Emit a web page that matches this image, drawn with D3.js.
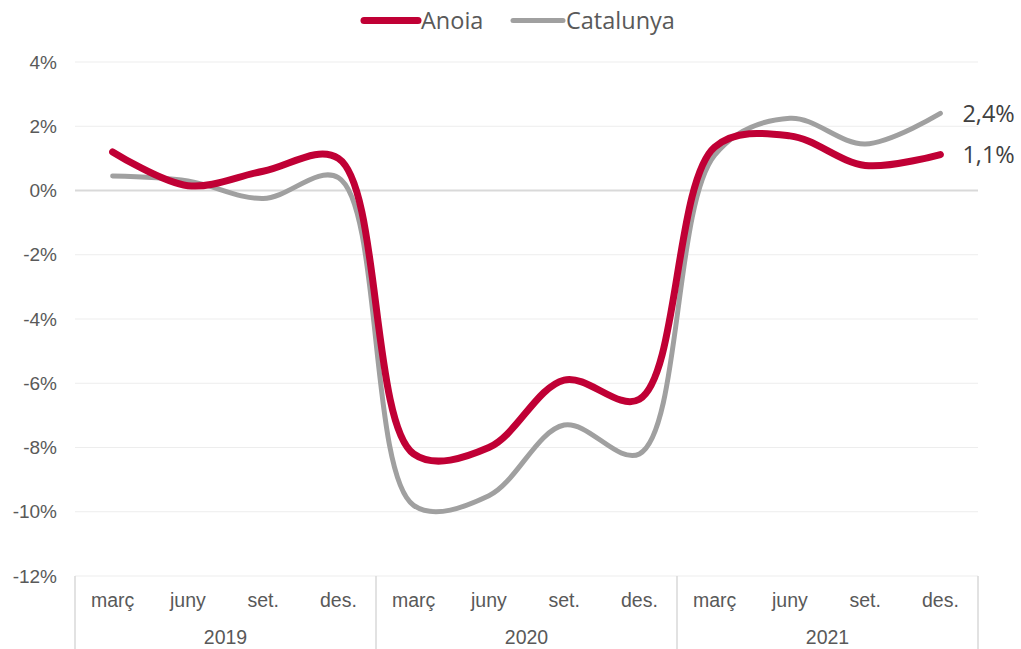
<!DOCTYPE html>
<html>
<head>
<meta charset="utf-8">
<script src="https://cdn.jsdelivr.net/npm/d3@7"></script>
<style>
  body { margin: 0; background: #fff; }
  svg { display: block; }
</style>
</head>
<body>
<svg id="chart" width="1021" height="649"></svg>
<script>
// quarters shown on the category axis
const years = ['2019', '2020', '2021'];
const months = ['març', 'juny', 'set.', 'des.'];
const yTicks = [4, 2, 0, -2, -4, -6, -8, -10, -12];

// % values, one per quarter
const anoia = [1.2, 0.15, 0.6, 1.0, -8.2, -8.0, -5.9, -6.5, 1.35, 1.7, 0.78, 1.12];
const catalunya = [0.45, 0.3, -0.25, 0.4, -9.8, -9.5, -7.3, -8.2, 1.1, 2.25, 1.45, 2.4];

const seriesNames = ['Anoia', 'Catalunya'];
const colors = {Anoia: '#c00035', Catalunya: '#a0a0a0'};
const widths = {Anoia: 7, Catalunya: 5};

const svg = d3.select('#chart');
const margin = {top: 62, right: 43, bottom: 73, left: 75};
const W = +svg.attr('width'), H = +svg.attr('height');
const axisFont = 'Liberation Sans, Arial, sans-serif';

const cats = [];
years.forEach(y => months.forEach(m => cats.push(y + '-' + m)));

const x = d3.scaleBand().domain(cats).range([margin.left, W - margin.right]);
const y = d3.scaleLinear().domain([-12, 4]).range([H - margin.bottom, margin.top]);

// grid
svg.append('g').selectAll('line')
  .data(yTicks)
  .join('line')
    .attr('x1', margin.left).attr('x2', W - margin.right)
    .attr('y1', d => y(d)).attr('y2', d => y(d))
    .attr('stroke', d => d === 0 ? '#d9d9d9' : '#ededed')
    .attr('stroke-width', d => d === 0 ? 2 : 1);

// y axis labels
const yAxis = svg.append('g')
  .attr('transform', `translate(${margin.left},0)`)
  .call(d3.axisLeft(y).tickValues(yTicks).tickSize(0).tickPadding(18).tickFormat(d => d + '%'));
yAxis.select('.domain').remove();
yAxis.selectAll('text')
  .attr('font-family', axisFont)
  .attr('font-size', 19)
  .attr('fill', '#595959');

// category axis: months
const xAxis = svg.append('g')
  .attr('transform', `translate(0,${H - margin.bottom})`)
  .call(d3.axisBottom(x).tickSize(0).tickPadding(17).tickFormat(d => d.split('-')[1]));
xAxis.select('.domain').remove();
xAxis.selectAll('text')
  .attr('font-family', axisFont)
  .attr('font-size', 19.5)
  .attr('fill', '#595959');

// year groups
const yearX = d3.scaleBand().domain(years).range([margin.left, W - margin.right]);
svg.append('g').selectAll('line')
  .data(years.concat(['end']))
  .join('line')
    .attr('x1', (d, i) => i < years.length ? yearX(d) : yearX.range()[1])
    .attr('x2', (d, i) => i < years.length ? yearX(d) : yearX.range()[1])
    .attr('y1', H - margin.bottom)
    .attr('y2', H)
    .attr('stroke', '#d9d9d9')
    .attr('stroke-width', 1.5);

svg.append('g').selectAll('text')
  .data(years)
  .join('text')
    .attr('x', d => yearX(d) + yearX.bandwidth() / 2)
    .attr('y', H - 5)
    .attr('text-anchor', 'middle')
    .attr('font-family', axisFont)
    .attr('font-size', 19.5)
    .attr('fill', '#595959')
    .text(d => d);

// lines
const data = {Anoia: anoia, Catalunya: catalunya};
const line = d3.line()
  .x((d, i) => x(cats[i]) + x.bandwidth() / 2)
  .y(d => y(d))
  .curve(d3.curveCatmullRom.alpha(0.5));

['Catalunya', 'Anoia'].forEach(name => {
  svg.append('path')
    .datum(data[name])
    .attr('fill', 'none')
    .attr('stroke', colors[name])
    .attr('stroke-width', widths[name])
    .attr('stroke-linecap', 'round')
    .attr('stroke-linejoin', 'round')
    .attr('d', line);
});

// end labels
const fmt = v => d3.format('.1f')(v).replace('.', ',') + '%';
seriesNames.forEach(name => {
  const vals = data[name];
  const last = vals[vals.length - 1];
  svg.append('text')
    .attr('x', x(cats[cats.length - 1]) + x.bandwidth() / 2 + 22)
    .attr('y', y(last))
    .attr('dy', '0.35em')
    .attr('font-family', 'Open Sans, sans-serif')
    .attr('font-size', 23.5)
    .attr('fill', '#404040')
    .text(fmt(last));
});

// legend
const legend = svg.append('g').attr('transform', 'translate(361,20.5)');
const legendItems = [{name: 'Anoia', x: 0, len: 57}, {name: 'Catalunya', x: 149, len: 53}];
legendItems.forEach(it => {
  legend.append('line')
    .attr('x1', it.x + 3).attr('x2', it.x + it.len)
    .attr('y1', 0).attr('y2', 0)
    .attr('stroke', colors[it.name])
    .attr('stroke-width', widths[it.name])
    .attr('stroke-linecap', 'round');
  legend.append('text')
    .attr('x', it.x + it.len + 3)
    .attr('y', 0)
    .attr('dy', '0.35em')
    .attr('font-family', 'Open Sans, sans-serif')
    .attr('font-size', 23.5)
    .attr('fill', '#595959')
    .text(it.name);
});
</script>
</body>
</html>
